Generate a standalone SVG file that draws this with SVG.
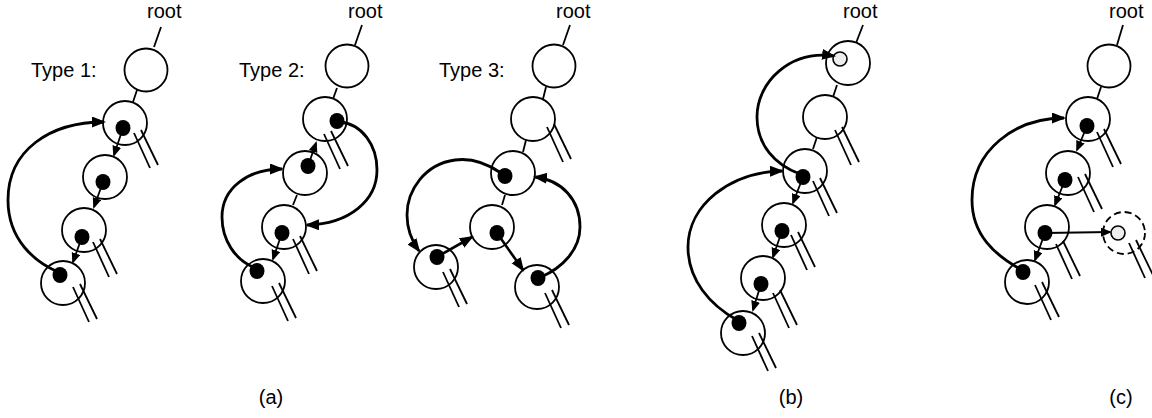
<svg xmlns="http://www.w3.org/2000/svg" width="1152" height="418" viewBox="0 0 1152 418">
  <style>
    .txt { font-family: "Liberation Sans", Arial, sans-serif; font-size: 20px; fill: #000; }
    .cap { font-family: "Liberation Sans", Arial, sans-serif; font-size: 20px; fill: #000; }
    .node { fill: #fff; stroke: #000; stroke-width: 1.8; }
    .ghost { fill: #fff; stroke: #000; stroke-width: 1.8; stroke-dasharray: 7 4; }
    .mark { fill: #eee; stroke: #000; stroke-width: 1.6; }
    .dot { fill: #000; stroke: none; }
    .edge { stroke: #000; stroke-width: 1.8; fill: none; }
    .ptr { stroke: #000; stroke-width: 1.8; fill: none; marker-end: url(#headS); }
    .ptrB { stroke: #000; stroke-width: 2.6; fill: none; marker-end: url(#headL); }
    .arc { stroke: #000; stroke-width: 2.8; fill: none; marker-end: url(#headL); }
  </style>
  <defs>
    <marker id="headS" markerUnits="userSpaceOnUse" markerWidth="12" markerHeight="10" refX="9" refY="4.5" orient="auto">
      <path d="M0,0 L11,4.5 L0,9 Z" fill="#000"/>
    </marker>
    <marker id="headL" markerUnits="userSpaceOnUse" markerWidth="16" markerHeight="12" refX="12" refY="5.5" orient="auto">
      <path d="M0,0 L14,5.5 L0,11 Z" fill="#000"/>
    </marker>
    <!-- the pair of lines hanging below a tree node -->
    <g id="legs">
      <line x1="9" y1="10" x2="25" y2="45" stroke="#000" stroke-width="1.8"/>
      <line x1="16" y1="7" x2="33" y2="42" stroke="#000" stroke-width="1.8"/>
    </g>
  </defs>

  <!-- ===== Type 1 ===== -->
  <g id="type1">
    <text class="txt" x="147" y="18">root</text>
    <text class="txt" x="31" y="77">Type 1:</text>
    <line class="edge" x1="161" y1="27" x2="154" y2="47"/>
    <line class="edge" x1="137" y1="90" x2="133" y2="102"/>
    <g id="t1-root"><circle class="node" cx="146" cy="70" r="21.5"/></g>
    <g id="t1-n1"><circle class="node" cx="125" cy="123" r="22"/><use href="#legs" x="125" y="123"/><ellipse class="dot" cx="123" cy="128" rx="7.5" ry="8"/></g>
    <g id="t1-n2"><circle class="node" cx="105" cy="177" r="22"/><ellipse class="dot" cx="103" cy="182" rx="7.5" ry="8"/></g>
    <g id="t1-n3"><circle class="node" cx="84" cy="230" r="22"/><use href="#legs" x="84" y="232"/><ellipse class="dot" cx="82" cy="237" rx="7.5" ry="8"/></g>
    <g id="t1-n4"><circle class="node" cx="63" cy="283" r="22"/><use href="#legs" x="64" y="277"/><ellipse class="dot" cx="60" cy="275" rx="7.5" ry="8"/></g>
    <g id="t1-links">
      <line class="ptr" x1="123" y1="128" x2="114" y2="155"/>
      <line class="ptr" x1="103" y1="182" x2="94" y2="207"/>
      <line class="ptr" x1="82" y1="237" x2="73" y2="262"/>
      <path class="arc" d="M58,272 C35,262 8,240 8,200 C8,150 50,122 104,122"/>
    </g>
  </g>

  <!-- ===== Type 2 ===== -->
  <g id="type2">
    <text class="txt" x="348" y="18">root</text>
    <text class="txt" x="239" y="77">Type 2:</text>
    <line class="edge" x1="362" y1="25" x2="355" y2="45"/>
    <line class="edge" x1="337" y1="88" x2="333" y2="99"/>
    <line class="edge" x1="297" y1="195" x2="293" y2="205"/>
    <g id="t2-root"><circle class="node" cx="347" cy="66" r="21.5"/></g>
    <g id="t2-a"><circle class="node" cx="325" cy="119" r="22"/><use href="#legs" x="315" y="124"/><ellipse class="dot" cx="337" cy="121" rx="7.5" ry="8"/></g>
    <g id="t2-b"><circle class="node" cx="305" cy="173" r="22"/><ellipse class="dot" cx="308" cy="166" rx="7.5" ry="8"/></g>
    <g id="t2-c"><circle class="node" cx="284" cy="227" r="22"/><use href="#legs" x="284" y="229"/><ellipse class="dot" cx="282" cy="233" rx="7.5" ry="8"/></g>
    <g id="t2-d"><circle class="node" cx="263" cy="281" r="22"/><use href="#legs" x="263" y="276"/><ellipse class="dot" cx="257" cy="271" rx="7.5" ry="8"/></g>
    <g id="t2-links">
      <line class="ptr" x1="308" y1="166" x2="316" y2="143"/>
      <line class="ptr" x1="282" y1="233" x2="273" y2="259"/>
      <path class="arc" d="M340,122 C362,124 377,145 377,170 C377,200 350,224 307,225"/>
      <path class="arc" d="M255,268 C235,260 222,240 222,217 C222,188 248,169 282,169"/>
    </g>
  </g>

  <!-- ===== Type 3 ===== -->
  <g id="type3">
    <text class="txt" x="556" y="18">root</text>
    <text class="txt" x="439" y="77">Type 3:</text>
    <line class="edge" x1="570" y1="25" x2="563" y2="45"/>
    <line class="edge" x1="546" y1="87" x2="543" y2="99"/>
    <line class="edge" x1="526" y1="140" x2="523" y2="152"/>
    <line class="edge" x1="505" y1="195" x2="502" y2="205"/>
    <g id="t3-root"><circle class="node" cx="554" cy="66" r="21.5"/></g>
    <g id="t3-e"><circle class="node" cx="533" cy="119" r="22"/><use href="#legs" x="538" y="117"/></g>
    <g id="t3-f"><circle class="node" cx="513" cy="173" r="22"/><ellipse class="dot" cx="505" cy="176" rx="7.5" ry="8"/></g>
    <g id="t3-g"><circle class="node" cx="492" cy="227" r="22"/><ellipse class="dot" cx="497" cy="233" rx="7.5" ry="8"/></g>
    <g id="t3-h"><circle class="node" cx="436" cy="267" r="22"/><use href="#legs" x="434" y="262"/><ellipse class="dot" cx="437" cy="257" rx="7.5" ry="8"/></g>
    <g id="t3-i"><circle class="node" cx="537" cy="287" r="22"/><use href="#legs" x="536" y="283"/><ellipse class="dot" cx="538" cy="278" rx="7.5" ry="8"/></g>
    <g id="t3-links">
      <line class="ptrB" x1="497" y1="233" x2="523" y2="270"/>
      <line class="ptrB" x1="437" y1="257" x2="472" y2="237"/>
      <path class="arc" d="M501,173 C485,162 470,158 455,160 C425,164 407,190 407,215 C407,228 411,240 419,251"/>
      <path class="arc" d="M541,277 C562,268 580,250 580,227 C580,200 562,180 535,177"/>
    </g>
  </g>

  <!-- ===== (b) ===== -->
  <g id="panel-b">
    <text class="txt" x="843" y="18">root</text>
    <line class="edge" x1="863" y1="25" x2="856" y2="43"/>
    <line class="edge" x1="837" y1="85" x2="833" y2="97"/>
    <line class="edge" x1="817" y1="137" x2="813" y2="149"/>
    <g id="b-root"><circle class="node" cx="848" cy="63" r="22"/><circle class="mark" cx="840" cy="59" r="7"/></g>
    <g id="b-j"><circle class="node" cx="825" cy="117" r="22"/><use href="#legs" x="826" y="120"/></g>
    <g id="b-k"><circle class="node" cx="805" cy="171" r="22"/><use href="#legs" x="804" y="171"/><ellipse class="dot" cx="803" cy="177" rx="7.5" ry="8"/></g>
    <g id="b-l"><circle class="node" cx="784" cy="225" r="22"/><use href="#legs" x="782" y="225"/><ellipse class="dot" cx="782" cy="231" rx="7.5" ry="8"/></g>
    <g id="b-m"><circle class="node" cx="763" cy="278" r="22"/><use href="#legs" x="764" y="283"/><ellipse class="dot" cx="761" cy="284" rx="7.5" ry="8"/></g>
    <g id="b-n"><circle class="node" cx="743" cy="333" r="22"/><use href="#legs" x="743" y="326"/><ellipse class="dot" cx="739" cy="323" rx="7.5" ry="8"/></g>
    <g id="b-links">
      <line class="ptr" x1="803" y1="177" x2="793" y2="203"/>
      <line class="ptr" x1="782" y1="231" x2="773" y2="257"/>
      <line class="ptr" x1="761" y1="284" x2="753" y2="310"/>
      <path class="arc" d="M800,174 C775,165 757,145 757,117 C757,82 790,50 834,56"/>
      <path class="arc" d="M737,320 C710,305 688,280 688,247 C688,205 730,172 782,171"/>
    </g>
  </g>

  <!-- ===== (c) ===== -->
  <g id="panel-c">
    <text class="txt" x="1109" y="18">root</text>
    <line class="edge" x1="1123" y1="25" x2="1117" y2="45"/>
    <line class="edge" x1="1101" y1="87" x2="1097" y2="99"/>
    <g id="c-root"><circle class="node" cx="1109" cy="66" r="21.5"/></g>
    <g id="c-p"><circle class="node" cx="1088" cy="119" r="22"/><use href="#legs" x="1088" y="122"/><ellipse class="dot" cx="1087" cy="126" rx="7.5" ry="8"/></g>
    <g id="c-q"><circle class="node" cx="1068" cy="173" r="22"/><use href="#legs" x="1069" y="167"/><ellipse class="dot" cx="1065" cy="180" rx="7.5" ry="8"/></g>
    <g id="c-r"><circle class="node" cx="1047" cy="227" r="22"/><use href="#legs" x="1047" y="234"/><ellipse class="dot" cx="1045" cy="233" rx="7.5" ry="8"/></g>
    <g id="c-s"><circle class="node" cx="1027" cy="282" r="22"/><use href="#legs" x="1026" y="275"/><ellipse class="dot" cx="1023" cy="272" rx="7.5" ry="8"/></g>
    <g id="c-new"><circle class="ghost" cx="1124" cy="233" r="21"/><use href="#legs" x="1120" y="233"/><circle class="mark" cx="1118" cy="233" r="7"/></g>
    <g id="c-links">
      <line class="ptr" x1="1087" y1="126" x2="1077" y2="150"/>
      <line class="ptr" x1="1065" y1="180" x2="1055" y2="205"/>
      <line class="ptr" x1="1045" y1="233" x2="1035" y2="260"/>
      <line class="ptr" x1="1045" y1="233" x2="1110" y2="232"/>
      <path class="arc" d="M1020,269 C995,255 972,235 972,200 C972,150 1015,118 1064,118"/>
    </g>
  </g>

  <!-- panel captions -->
  <text class="cap" x="271" y="404" text-anchor="middle">(a)</text>
  <text class="cap" x="791" y="404" text-anchor="middle">(b)</text>
  <text class="cap" x="1121" y="404" text-anchor="middle">(c)</text>
</svg>
